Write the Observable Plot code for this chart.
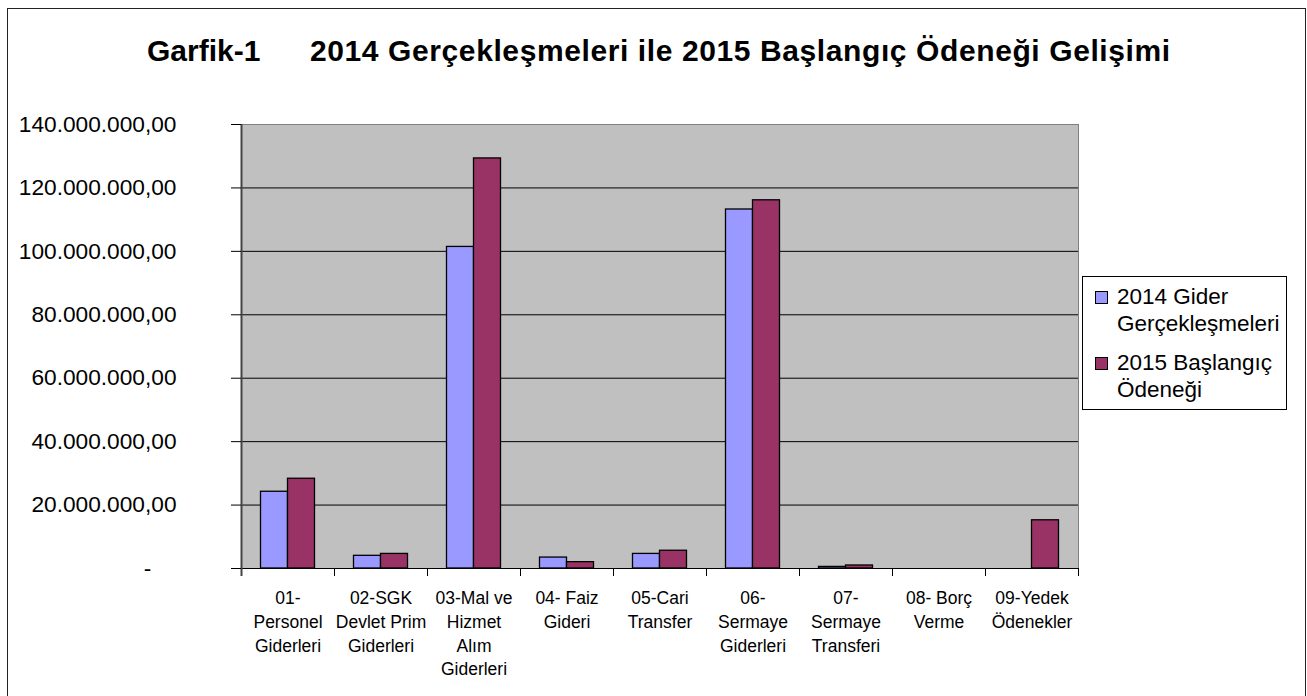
<!DOCTYPE html>
<html>
<head>
<meta charset="utf-8">
<script src="https://cdn.jsdelivr.net/npm/d3@7"></script>
<script src="https://cdn.jsdelivr.net/npm/@observablehq/plot@0.6"></script>
<style>
  body { margin: 0; background: #fff; color: #000; font-family: "Liberation Sans", Arial, sans-serif; }
  #wrap { position: relative; width: 1307px; height: 696px; overflow: hidden; }
  #border { position: absolute; left: 7px; top: 8px; width: 1299px; height: 720px; border: 1.5px solid #222; box-sizing: border-box; }
  #chart { position: absolute; left: 0; top: 0; }
  .title { position: absolute; font-weight: bold; font-size: 30px; line-height: 30px; white-space: nowrap; }
  #legend { position: absolute; left: 1082px; top: 276px; width: 205px; height: 134px; border: 1px solid #000; background: #fff; box-sizing: border-box; }
  .sw { position: absolute; width: 13px; height: 13px; border: 1px solid #000; box-sizing: border-box; }
  .lt { position: absolute; font-size: 22.5px; line-height: 26.7px; width: 170px; }
</style>
</head>
<body>
<div id="wrap">
  <div id="border"></div>
  <div id="chart"></div>
  <div class="title" id="t1" style="left:147px; top:35.5px;"></div>
  <div class="title" id="t2" style="left:310px; top:35.5px; letter-spacing:0.6px;"></div>
  <div id="legend"></div>
</div>
<script>
// ---- data ----
const titleParts = ["Garfik-1", "2014 Gerçekleşmeleri ile 2015 Başlangıç Ödeneği Gelişimi"];
const categories = ["01", "02", "03", "04", "05", "06", "07", "08", "09"];
const categoryLabels = [
  "01-\nPersonel\nGiderleri",
  "02-SGK\nDevlet Prim\nGiderleri",
  "03-Mal ve\nHizmet\nAlım\nGiderleri",
  "04- Faiz\nGideri",
  "05-Cari\nTransfer",
  "06-\nSermaye\nGiderleri",
  "07-\nSermaye\nTransferi",
  "08- Borç\nVerme",
  "09-Yedek\nÖdenekler"
];
const seriesNames = ["2014 Gider Gerçekleşmeleri", "2015 Başlangıç Ödeneği"];
const seriesColors = ["#9999ff", "#993366"];
const values2014 = [24200000, 4000000, 101400000, 3450000, 4600000, 113200000, 500000, 0, 0];
const values2015 = [28300000, 4600000, 129300000, 2000000, 5600000, 116100000, 950000, 0, 15200000];
const yTicks = [0, 20000000, 40000000, 60000000, 80000000, 100000000, 120000000, 140000000];

// ---- build ----
const labelOf = new Map(categories.map((c, i) => [c, categoryLabels[i]]));
const rows2014 = categories.map((c, i) => ({cat: c, value: values2014[i]}));
const rows2015 = categories.map((c, i) => ({cat: c, value: values2015[i]}));

const W = 1307, H = 696, mL = 241, mR = 229, mT = 124, mB = 128;
const bw = (W - mL - mR) / categories.length;
const barW = 27, gap = (bw - 2 * barW) / 2;
const yMax = yTicks[yTicks.length - 1];
const tickVal = yMax * 8 / (H - mT - mB);

const trLocale = d3.formatLocale({decimal: ",", thousands: ".", grouping: [3], currency: ["", ""]});
const fmt = trLocale.format(",.2f");
const yFormat = d => d === 0 ? "-\u00a0\u00a0\u00a0\u00a0" : fmt(d);

const chart = Plot.plot({
  width: W, height: H,
  marginLeft: mL, marginRight: mR, marginTop: mT, marginBottom: mB,
  style: {fontFamily: "'Liberation Sans', Arial, sans-serif", fontSize: "17.5px", background: "transparent", color: "#000"},
  x: {domain: categories, padding: 0, axis: null},
  y: {domain: [0, yMax], axis: null},
  marks: [
    Plot.frame({fill: "#c0c0c0", stroke: "#808080"}),
    Plot.gridY(yTicks.filter(d => d > 0 && d < yMax), {stroke: "#000", strokeOpacity: 1, strokeWidth: 1}),
    Plot.barY(rows2014, {x: "cat", y: "value", fill: seriesColors[0], stroke: "#000", strokeWidth: 1.3, insetLeft: gap, insetRight: gap + barW}),
    Plot.barY(rows2015, {x: "cat", y: "value", fill: seriesColors[1], stroke: "#000", strokeWidth: 1.3, insetLeft: gap + barW, insetRight: gap}),
    Plot.ruleY([0], {stroke: "#000", strokeWidth: 1.2}),
    Plot.ruleX(categories, {x: d => d, dx: -bw / 2, y1: -tickVal, y2: 0, stroke: "#000"}),
    Plot.ruleX([categories[categories.length - 1]], {x: d => d, dx: bw / 2, y1: -tickVal, y2: 0, stroke: "#000"}),
    Plot.ruleX([categories[0]], {x: d => d, dx: -bw / 2, y1: -tickVal, y2: yMax, stroke: "#444", strokeWidth: 2}),
    Plot.axisY(yTicks, {tickSize: 10, tickPadding: 55, fontSize: 22.7, tickFormat: yFormat, stroke: "#000", fill: "#000", label: null}),
    Plot.text(categories, {x: d => d, y: 0, text: d => labelOf.get(d), lineAnchor: "top", dy: 19, fontSize: 17.5, lineHeight: 1.35, fill: "#000"})
  ]
});
document.getElementById("chart").appendChild(chart);

document.getElementById("t1").textContent = titleParts[0];
document.getElementById("t2").textContent = titleParts[1];

const legend = document.getElementById("legend");
seriesNames.forEach((name, i) => {
  const sw = document.createElement("div");
  sw.className = "sw";
  sw.style.left = (1095 - 1083) + "px";
  sw.style.top = (290.5 - 277 + i * 66) + "px";
  sw.style.background = seriesColors[i];
  legend.appendChild(sw);
  const t = document.createElement("div");
  t.className = "lt";
  t.style.left = (1117 - 1083) + "px";
  t.style.top = (283.9 - 277 + i * 66) + "px";
  t.textContent = name;
  legend.appendChild(t);
});
</script>
</body>
</html>
